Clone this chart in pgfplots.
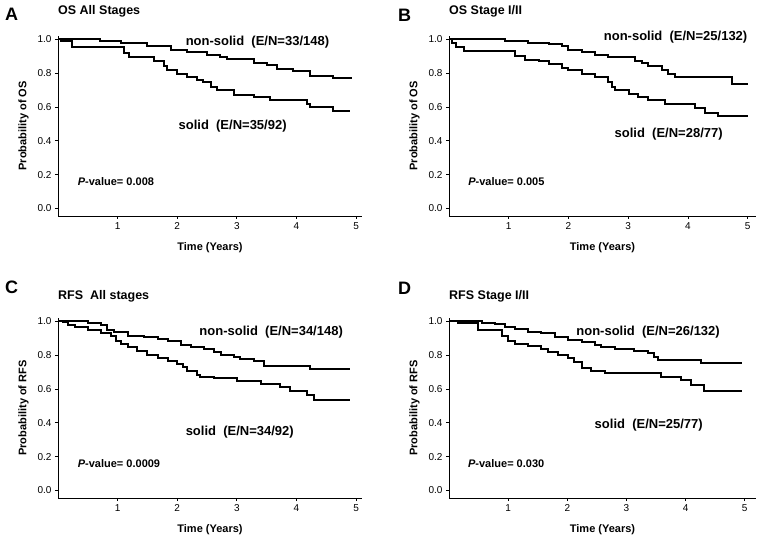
\documentclass[border=0pt]{standalone}
\usepackage{pgfplots}
\pgfplotsset{compat=1.18}
\usepackage{fontspec}
\setmainfont{Liberation Sans}
\pgfplotsset{km/.style={
  scale only axis, width=304bp, height=180bp,
  axis x line*=bottom, axis y line*=left,
  xmin=0, xmax=5.1, ymin=-0.045, ymax=1.02,
  xtick={1,2,3,4,5}, ytick={0,0.2,0.4,0.6,0.8,1.0},
  tick align=outside, major tick length=3bp,
  yticklabel style={/pgf/number format/.cd, fixed, fixed zerofill, precision=1},
  /pgf/number format/assume math mode=true,
  tick label style={font=\fontsize{10bp}{12bp}\selectfont},
  label style={font=\bfseries\fontsize{11bp}{13bp}\selectfont},
  xlabel={Time (Years)},
  xlabel style={yshift=-6bp},
  ylabel style={yshift=2bp},
  axis line style={line width=0.8bp},
  tick style={line width=0.8bp, black},
  clip=false,
  cycle list={{black}},
  every axis plot post/.append style={const plot, black, line width=2bp, no marks, line join=miter},
}}
\tikzset{lab/.style={font=\bfseries\fontsize{13bp}{15bp}\selectfont, anchor=west, inner sep=0pt},
pv/.style={font=\bfseries\fontsize{11bp}{13bp}\selectfont, anchor=west, inner sep=0pt}}
\begin{document}
\begin{tikzpicture}
\path[use as bounding box, fill=white] (0,0) rectangle (762bp,541bp);
% titles
\node[anchor=base west, inner sep=0pt, font=\bfseries\fontsize{18bp}{20bp}\selectfont] at (5bp,520.3bp) {A};
\node[anchor=base west, inner sep=0pt, font=\bfseries\fontsize{12.5bp}{14bp}\selectfont] at (58bp,526bp) {OS All Stages};
\node[anchor=base west, inner sep=0pt, font=\bfseries\fontsize{18bp}{20bp}\selectfont] at (398bp,519.3bp) {B};
\node[anchor=base west, inner sep=0pt, font=\bfseries\fontsize{12.5bp}{14bp}\selectfont] at (449bp,526bp) {OS Stage I/II};
\node[anchor=base west, inner sep=0pt, font=\bfseries\fontsize{18bp}{20bp}\selectfont] at (5bp,247.7bp) {C};
\node[anchor=base west, inner sep=0pt, font=\bfseries\fontsize{12.5bp}{14bp}\selectfont] at (58bp,241bp) {RFS\ \ All stages};
\node[anchor=base west, inner sep=0pt, font=\bfseries\fontsize{18bp}{20bp}\selectfont] at (398bp,246bp) {D};
\node[anchor=base west, inner sep=0pt, font=\bfseries\fontsize{12.5bp}{14bp}\selectfont] at (449bp,241bp) {RFS Stage I/II};

% Panel A
\begin{axis}[km, at={(58bp,325bp)}, anchor=south west, ylabel={Probability of OS}]
\addplot coordinates {(0,1)(0.71,0.988)(1.05,0.976)(1.5,0.963)(1.89,0.937)(2.16,0.924)(2.5,0.908)(2.72,0.894)(2.83,0.882)(3.28,0.863)(3.5,0.847)(3.67,0.827)(3.95,0.814)(4.23,0.784)(4.62,0.769)(4.93,0.769)};
\addplot coordinates {(0,1)(0.045,0.99)(0.24,0.957)(1.1,0.918)(1.19,0.894)(1.61,0.875)(1.77,0.84)(1.83,0.82)(2.0,0.796)(2.16,0.776)(2.33,0.76)(2.44,0.745)(2.56,0.718)(2.67,0.70)(2.95,0.673)(3.28,0.659)(3.56,0.64)(4.17,0.618)(4.23,0.60)(4.62,0.578)(4.9,0.578)};
\node[lab] at (axis cs:2.14,0.984) {non-solid\ \ (E/N=33/148)};
\node[lab] at (axis cs:2.02,0.484) {solid\ \ (E/N=35/92)};
\node[pv] at (axis cs:0.33,0.16) {{\itshape P}-value= 0.008};
\end{axis}

% Panel B
\begin{axis}[km, width=307bp, xmax=5.14, at={(449bp,325bp)}, anchor=south west, ylabel={Probability of OS}]
\addplot coordinates {(0,1)(0.94,0.99)(1.33,0.98)(1.67,0.97)(1.89,0.96)(2.0,0.94)(2.23,0.927)(2.45,0.91)(2.67,0.894)(3.12,0.875)(3.23,0.86)(3.34,0.84)(3.56,0.816)(3.67,0.796)(3.79,0.775)(4.73,0.737)(5.01,0.737)};
\addplot coordinates {(0,1)(0.05,0.98)(0.11,0.957)(0.25,0.933)(1.11,0.90)(1.28,0.878)(1.5,0.87)(1.67,0.855)(1.89,0.83)(2.0,0.816)(2.23,0.796)(2.45,0.776)(2.67,0.75)(2.73,0.718)(2.78,0.698)(3.01,0.678)(3.17,0.659)(3.34,0.643)(3.62,0.62)(4.12,0.594)(4.29,0.565)(4.51,0.545)(5.01,0.545)};
\node[lab] at (axis cs:2.59,1.015) {non-solid\ \ (E/N=25/132)};
\node[lab] at (axis cs:2.77,0.437) {solid\ \ (E/N=28/77)};
\node[pv] at (axis cs:0.32,0.16) {{\itshape P}-value= 0.005};
\end{axis}

% Panel C
\begin{axis}[km, at={(58bp,43bp)}, anchor=south west, ylabel={Probability of RFS}]
\addplot coordinates {(0,1)(0.5,0.99)(0.72,0.976)(0.83,0.95)(0.94,0.935)(1.17,0.915)(1.45,0.906)(1.67,0.896)(1.84,0.882)(2.06,0.862)(2.23,0.85)(2.45,0.837)(2.62,0.817)(2.73,0.803)(2.95,0.791)(3.06,0.778)(3.28,0.764)(3.45,0.738)(4.23,0.72)(4.9,0.72)};
\addplot coordinates {(0,1)(0.08,0.994)(0.16,0.98)(0.28,0.968)(0.5,0.95)(0.72,0.93)(0.89,0.915)(0.97,0.886)(1.06,0.866)(1.17,0.85)(1.33,0.827)(1.5,0.803)(1.67,0.783)(1.84,0.764)(2.0,0.748)(2.09,0.728)(2.17,0.709)(2.34,0.685)(2.39,0.673)(2.62,0.665)(3.0,0.65)(3.4,0.63)(3.73,0.61)(3.9,0.587)(4.18,0.567)(4.29,0.535)(4.9,0.535)};
\node[lab] at (axis cs:2.37,0.935) {non-solid\ \ (E/N=34/148)};
\node[lab] at (axis cs:2.14,0.344) {solid\ \ (E/N=34/92)};
\node[pv] at (axis cs:0.33,0.157) {{\itshape P}-value= 0.0009};
\end{axis}

% Panel D
\begin{axis}[km, width=307bp, xmax=5.19, at={(449bp,43bp)}, anchor=south west, ylabel={Probability of RFS}]
\addplot coordinates {(0,1)(0.55,0.99)(0.78,0.985)(0.94,0.968)(1.11,0.955)(1.34,0.94)(1.56,0.93)(1.79,0.906)(2.01,0.89)(2.24,0.876)(2.46,0.862)(2.57,0.846)(2.8,0.837)(3.13,0.827)(3.36,0.81)(3.47,0.79)(3.53,0.77)(4.26,0.752)(4.96,0.752)};
\addplot coordinates {(0,1)(0.16,0.988)(0.49,0.95)(0.89,0.915)(1.0,0.886)(1.11,0.866)(1.34,0.856)(1.56,0.837)(1.67,0.817)(1.84,0.803)(2.01,0.783)(2.12,0.758)(2.24,0.724)(2.4,0.709)(2.63,0.693)(3.58,0.673)(3.92,0.654)(4.09,0.626)(4.31,0.59)(4.96,0.59)};
\node[lab] at (axis cs:2.15,0.935) {non-solid\ \ (E/N=26/132)};
\node[lab] at (axis cs:2.46,0.384) {solid\ \ (E/N=25/77)};
\node[pv] at (axis cs:0.32,0.157) {{\itshape P}-value= 0.030};
\end{axis}
\end{tikzpicture}
\end{document}
